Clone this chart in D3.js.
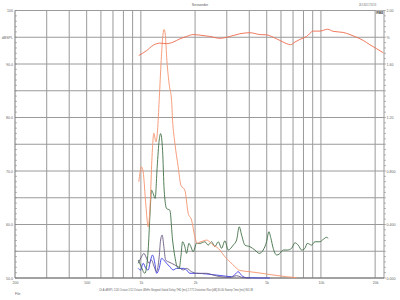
<!DOCTYPE html>
<html><head><meta charset="utf-8">
<script src="https://cdn.jsdelivr.net/npm/d3@7"></script>
<style>html,body{margin:0;padding:0;background:#fff}svg{display:block}</style>
</head><body>
<svg id="c" width="400" height="300"></svg>
<script>
// Frequency response (dBSPL, left axis)
const respFreq = [974,1076,1170,1275,1389,1512,1647,1794,1952,2127,2416,2747,3122,3548,4033,4583,4990,5433,5918,6446,6787,7171,7646,8329,9062,9873,10894,11704,13302,14495,15792,17179,18720,20408,22187];
const respDb   = [91.6,92.5,93.5,93.9,93.8,94.1,94.7,95.15,95.5,95.4,95.15,94.8,95.15,95.65,95.85,95.5,95.45,95.0,94.4,93.8,93.6,94.1,94.6,95.15,96.15,96.15,96.5,96.1,95.9,95.5,95.0,94.4,93.6,92.85,92.1];
// Distortion curve (dBSPL, left axis)
const distFreq = [974,1009,1030,1066,1098,1129,1151,1181,1212,1238,1264,1297,1325,1347,1368,1395,1439,1481,1500,1545,1612,1668,1755,1831,1913,1995,2055,2127,2210,2317,2416,2512,2634,2747,2929,3122,3328,3548,4033,4583,5412,6446,7328];
const distDb   = [67.97,70.76,69.83,63.62,59.57,64.55,72.01,77.05,75.43,77.61,83.21,90.67,95.34,96.46,95.34,90.67,86.01,83.21,79.48,75.19,70.76,67.35,66.42,62.13,60.82,57.70,56.47,56.72,56.90,57.09,56.72,56.16,55.78,55.22,53.97,53.04,52.11,51.40,51.17,50.93,50.56,50.24,50.06];
// THD (% , right axis)
const thdFreq = [966,996,1052,1098,1122,1147,1170,1201,1232,1264,1287,1320,1347,1389,1449,1500,1545,1591,1633,1668,1705,1755,1794,1848,1896,1952,2039,2127,2268,2365,2471,2577,2689,2808,2929,3055,3258,3402,3517,3627,3783,4033,4299,4543,4779,4990,5140,5275,5433,5675,5867,6174,6498,6874,7171,7480,7813,8150,8393,8878,9261,9873,10299,10757,10981];
const thdPct  = [0.134,0.097,0.035,0.209,0.457,0.657,0.632,0.595,0.831,1.030,1.080,0.955,0.657,0.520,0.507,0.284,0.159,0.084,0.072,0.159,0.271,0.234,0.184,0.259,0.234,0.196,0.259,0.259,0.271,0.246,0.271,0.234,0.271,0.222,0.278,0.209,0.246,0.284,0.383,0.321,0.246,0.234,0.209,0.184,0.209,0.271,0.346,0.296,0.222,0.172,0.179,0.209,0.209,0.222,0.263,0.246,0.209,0.222,0.259,0.246,0.271,0.271,0.289,0.304,0.296];
// 2nd harmonic (% , right axis)
const h2Freq = [966,1009,1039,1076,1112,1147,1185,1222,1264,1287,1313,1342,1372,1418,1481,1545,1612,1718,1794,1913,2039,2317,2522,2747,3122,3402,3701,4033];
const h2Pct  = [0.110,0.159,0.184,0.147,0.110,0.134,0.084,0.047,0.159,0.284,0.321,0.234,0.134,0.122,0.110,0.097,0.084,0.060,0.072,0.047,0.035,0.035,0.022,0.010,0.004,0.017,0.002,0.0];
// 3rd harmonic (% , right axis)
const h3Freq = [966,996,1030,1066,1098,1132,1161,1196,1222,1264,1303,1342,1389,1449,1512,1579,1718,1794,1872,2039,2317,2747,3191,3328,3473,3627,3866,4583,5207];
const h3Pct  = [0.072,0.060,0.110,0.072,0.060,0.134,0.172,0.110,0.035,0.072,0.147,0.134,0.110,0.084,0.060,0.072,0.072,0.060,0.035,0.035,0.030,0.019,0.010,0.026,0.047,0.019,0.002,0.0,0.0];

const xGrid = [300,400,500,600,700,800,900,1000,2000,3000,4000,5000,6000,7000,8000,9000,10000,20000];
const xTickVals = [200,500,1000,2000,5000,10000,20000];
const xTickLabels = ["200","500","1k","2k","5k","10k","20k"];
const dbGrid = [50,55,60,65,70,75,80,85,90,95,100];
const dbTickVals = [100,95,90,80,70,60,50];
const dbTickLabels = ["100","dBSPL","90.0","80.0","70.0","60.0","50.0"];
const pctTickVals = [2.0,1.8,1.6,1.2,0.8,0.4,0.0];
const pctTickLabels = ["2.00","%","1.60","1.20","0.800","0.400","0.000"];

const svg = d3.select("#c");
const L=15, R=384, T=10.5, B=278;
const x = d3.scaleLog().domain([200,22400]).range([L,R]);
const yDb = d3.scaleLinear().domain([50,100]).range([B,T]);
const yPct = d3.scaleLinear().domain([0,2]).range([B,T]);
const font = "Liberation Sans, Arial, sans-serif";

// grid
svg.append("g").selectAll("line").data(xGrid).join("line")
  .attr("x1",d=>x(d)).attr("x2",d=>x(d)).attr("y1",T).attr("y2",B)
  .attr("stroke","#9a9a9a").attr("stroke-width",1);
svg.append("g").selectAll("line").data(dbGrid).join("line")
  .attr("x1",L).attr("x2",R).attr("y1",d=>yDb(d)).attr("y2",d=>yDb(d))
  .attr("stroke","#9a9a9a").attr("stroke-width",1);
// frame
svg.append("line").attr("x1",L).attr("x2",L).attr("y1",T).attr("y2",B).attr("stroke","#777");
svg.append("line").attr("x1",R).attr("x2",R).attr("y1",T).attr("y2",B).attr("stroke","#999");
svg.append("line").attr("x1",L).attr("x2",R).attr("y1",B).attr("y2",B).attr("stroke","#777");

// minor ticks
svg.append("g").selectAll("line").data(d3.range(50,101,1)).join("line")
  .attr("x1",L).attr("x2",L+2).attr("y1",d=>yDb(d)).attr("y2",d=>yDb(d))
  .attr("stroke","#888").attr("stroke-width",0.6);
svg.append("g").selectAll("line").data(d3.range(0,2.001,0.04)).join("line")
  .attr("x1",R).attr("x2",R+2).attr("y1",d=>yPct(d)).attr("y2",d=>yPct(d))
  .attr("stroke","#888").attr("stroke-width",0.6);

// axes labels via d3 axes
const txtStyle = g => g.selectAll("text").attr("font-family",font).attr("font-size",3.6).attr("fill","#666");
const axB = svg.append("g").attr("transform",`translate(0,${B})`)
  .call(d3.axisBottom(x).tickValues(xTickVals).tickFormat((d,i)=>xTickLabels[i]).tickSize(0).tickPadding(3));
axB.select(".domain").remove(); axB.call(txtStyle);
const axL = svg.append("g").attr("transform",`translate(${L},0)`)
  .call(d3.axisLeft(yDb).tickValues(dbTickVals).tickFormat((d,i)=>dbTickLabels[i]).tickSize(0).tickPadding(2));
axL.select(".domain").remove(); axL.call(txtStyle);
const axR = svg.append("g").attr("transform",`translate(${R},0)`)
  .call(d3.axisRight(yPct).tickValues(pctTickVals).tickFormat((d,i)=>pctTickLabels[i]).tickSize(0).tickPadding(2.5));
axR.select(".domain").remove(); axR.call(txtStyle);

// curves
const lineDb = d3.line().x(d=>x(d[0])).y(d=>yDb(d[1])).curve(d3.curveMonotoneX);
const linePct = d3.line().x(d=>x(d[0])).y(d=>yPct(d[1])).curve(d3.curveMonotoneX);
const z = (a,b)=>a.map((v,i)=>[v,b[i]]);
svg.append("path").attr("d",linePct(z(h3Freq,h3Pct))).attr("fill","none").attr("stroke","#3a3ae6").attr("stroke-width",0.9);
svg.append("path").attr("d",linePct(z(h2Freq,h2Pct))).attr("fill","none").attr("stroke","#6a5a82").attr("stroke-width",0.9);
svg.append("path").attr("d",linePct(z(thdFreq,thdPct))).attr("fill","none").attr("stroke","#3f6f45").attr("stroke-width",0.9);
svg.append("path").attr("d",lineDb(z(distFreq,distDb))).attr("fill","none").attr("stroke","#f5936e").attr("stroke-width",0.9);
svg.append("path").attr("d",lineDb(z(respFreq,respDb))).attr("fill","none").attr("stroke","#ee6a4c").attr("stroke-width",0.9);

// header texts
svg.append("text").attr("x",200).attr("y",6).attr("text-anchor","middle")
  .attr("font-family",font).attr("font-size",3.6).attr("fill","#555").text("Sessorder");
svg.append("text").attr("x",359).attr("y",6)
  .attr("font-family",font).attr("font-size",3.4).attr("fill","#555")
  .attr("textLength",17).attr("lengthAdjust","spacingAndGlyphs").text("26.9.2015 17:32:53");
svg.append("rect").attr("x",376).attr("y",10.5).attr("width",7.5).attr("height",3.5).attr("fill","#d6d6d6");
svg.append("text").attr("x",376.5).attr("y",13.6)
  .attr("font-family",font).attr("font-size",3.4).attr("font-weight","bold").attr("fill","#444")
  .attr("textLength",6.5).attr("lengthAdjust","spacingAndGlyphs").text("FS83");

// footer
svg.append("text").attr("x",99).attr("y",290.5)
  .attr("font-family",font).attr("font-size",3.4).attr("fill","#666")
  .attr("textLength",154).attr("lengthAdjust","spacingAndGlyphs")
  .text("Ch A    dBSPL    1/24 Octave    1/12 Octave    48kHz    Stepped    Gated    Delay THD [ms]  2.771    Distortion Rise [dB]  30.00    Sweep Time [ms]  963.38");
svg.append("text").attr("x",15).attr("y",295)
  .attr("font-family",font).attr("font-size",3.4).attr("fill","#666").text("File");
</script>
</body></html>
